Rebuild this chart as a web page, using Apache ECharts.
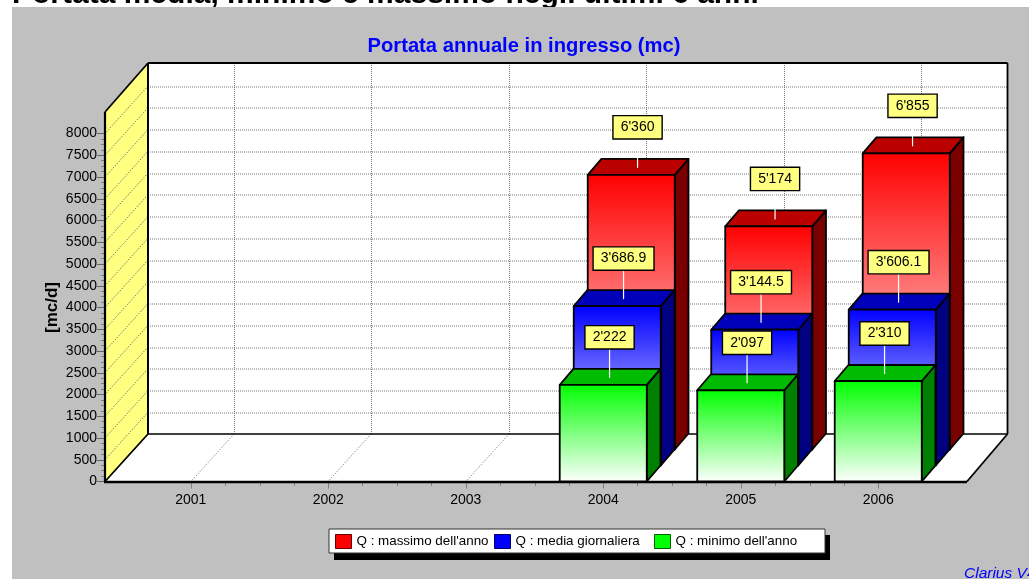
<!DOCTYPE html>
<html><head><meta charset="utf-8">
<style>html,body{margin:0;padding:0;background:#fff;overflow:hidden}#c{width:1029px;height:579px}</style>
<script src="https://cdn.jsdelivr.net/npm/echarts@6/dist/echarts.min.js"></script>
</head><body><div id="c"></div>
<script>
const categories = ['2001','2002','2003','2004','2005','2006'];
const massimo = [null,null,null,6360,5174,6855];
const media   = [null,null,null,3686.9,3144.5,3606.1];
const minimo  = [null,null,null,2222,2097,2310];
const yTicks = [0,500,1000,1500,2000,2500,3000,3500,4000,4500,5000,5500,6000,6500,7000,7500,8000,8500];

const FONT = '"Liberation Sans", Arial, sans-serif';
const DX = 43, DY = 47.5, STEP_X = 14, STEP_Y = 15, LDX = 13.7, LDY = 16;
const chart = echarts.init(document.getElementById('c'), null, {renderer:'canvas'});
const fmt = v => { const p = String(v).split('.'); return p[0].replace(/\B(?=(\d{3})+$)/g,"'") + (p[1] ? '.'+p[1] : ''); };

function chrome(params, api){
  const cs = params.coordSys, y0 = api.coord([0,0])[1], bw = api.size([1,0])[0];
  const L = cs.x - 17, R = cs.x + cs.width + 20, W = 1007.5;
  const topF = 112, topB = 63, backY = y0 - DY, backL = L + DX;
  const kids = [];
  kids.push({type:'rect',shape:{x:backL,y:topB,width:W-backL,height:backY-topB},style:{fill:'#fff'}});
  kids.push({type:'polygon',shape:{points:[[L,y0],[backL,backY],[W,backY],[R,y0]]},style:{fill:'#fff'}});
  kids.push({type:'polygon',shape:{points:[[L,topF],[backL,topB],[backL,backY],[L,y0]]},style:{fill:'#ffff80'}});
  const dot = {stroke:'#777',lineWidth:1,lineDash:[1,1]};
  yTicks.slice(1,-1).forEach(v => {
    const y = Math.round(api.coord([0,v])[1]);
    kids.push({type:'line',shape:{x1:backL,y1:y-DY+.5,x2:W,y2:y-DY+.5},style:dot});
  });
  yTicks.slice(0,-1).forEach(v => {
    const y = api.coord([0,v])[1];
    kids.push({type:'line',shape:{x1:L,y1:y,x2:backL,y2:y-DY},style:{stroke:'#55557a',lineWidth:1,lineDash:[1,1.5]}});
  });
  categories.forEach((c,i) => {
    const x = Math.round(api.coord([i,0])[0]);
    kids.push({type:'line',shape:{x1:x+DX+.5,y1:topB,x2:x+DX+.5,y2:backY},style:dot});
    kids.push({type:'line',shape:{x1:x,y1:y0,x2:x+DX,y2:backY},style:{stroke:'#777',lineWidth:1,lineDash:[1,1.5]}});
    if(i<categories.length-1) for(let k=1;k<4;k++){
      const tx = Math.round(x+k*bw/4)+.5;
      kids.push({type:'line',shape:{x1:tx,y1:y0,x2:tx,y2:y0+4.5},style:{stroke:'#808080',lineWidth:1}});
    }
  });
  const edge = (a,b,c,d,w)=>kids.push({type:'line',shape:{x1:a,y1:b,x2:c,y2:d},style:{stroke:'#000',lineWidth:w}});
  edge(backL,topB,W,topB,1.8);
  edge(backL,topB,backL,backY,2);
  edge(W,topB,W,backY,1.8);
  edge(backL,backY,W,backY,1.5);
  edge(L,topF,backL,topB,1.8);
  edge(L,y0,backL,backY,1.8);
  edge(R,y0,W,backY,1.8);
  edge(L,topF,L,y0,2.2);
  edge(L-1,y0+.5,R,y0+.5,2.5);
  return {type:'group',children:kids};
}

const barRender = (layer, front, topCol, sideCol) => (params, api) => {
  const val = api.value(1), cat = api.value(0);
  const cx = api.coord([cat,0])[0], y0 = api.coord([0,0])[1];
  const w = api.size([1,0])[0]*0.633;
  const left = cx - w/2 + STEP_X*layer, right = left + w;
  const top = api.coord([cat,val])[1] - STEP_Y*layer, base = y0 - LDY*layer;
  const ln = {stroke:'#000',lineWidth:1.8,lineJoin:'round'};
  const lx = (left+right)/2 + 6.3;
  return {type:'group',children:[
    {type:'polygon',shape:{points:[[right,top],[right+LDX,top-LDY],[right+LDX,base-LDY],[right,base]]},style:{fill:sideCol,...ln}},
    {type:'polygon',shape:{points:[[left,top],[right,top],[right+LDX,top-LDY],[left+LDX,top-LDY]]},style:{fill:topCol,...ln}},
    {type:'rect',shape:{x:left,y:top,width:w,height:base-top},style:{
      fill:new echarts.graphic.LinearGradient(0,0,0,1,[{offset:0,color:front},{offset:1,color:'#fff'}]),...ln}},
    {type:'line',shape:{x1:lx,y1:top-7,x2:lx,y2:top-36.5},style:{stroke:'#fff',lineWidth:1.2}},
    {type:'text',x:lx,y:top-36.5,style:{text:fmt(val),align:'center',verticalAlign:'bottom',font:'14px '+FONT,fill:'#000',
      backgroundColor:'#ffff80',borderColor:'#000',borderWidth:1.4,padding:[4,7,4,7]}}
  ]};
};

const toData = arr => arr.map((v,i)=>v==null?null:[i,v]).filter(Boolean);
const NAMES = ["Q : massimo dell'anno","Q : media giornaliera","Q : minimo dell'anno"];
const mkSeries = (name,arr,layer,front,topCol,sideCol) => ({
  type:'custom',name,data:toData(arr),encode:{x:0,y:1},silent:true,clip:false,animation:false,
  itemStyle:{color:front},renderItem:barRender(layer,front,topCol,sideCol)
});
const mkLegend = (name,left,border) => ({
  data:[{name,icon:'rect',itemStyle:{borderColor:border,borderWidth:1}}],
  left,top:534,padding:0,itemWidth:16,itemHeight:14,itemGap:6,selectedMode:false,
  textStyle:{fontFamily:FONT,fontSize:13.4,color:'#000',padding:[2,0,0,0]}
});

chart.setOption({
  animation:false,
  backgroundColor:'transparent',
  title:{text:'Portata annuale in ingresso (mc)',left:519,top:31,textAlign:'center',
    textStyle:{fontFamily:FONT,fontWeight:'bold',fontSize:20.2,color:'#0000ff'}},
  legend:[mkLegend(NAMES[0],335,'#600000'),mkLegend(NAMES[1],494,'#000060'),mkLegend(NAMES[2],654,'#006000')],
  grid:{left:122,width:825,top:133.5,height:348},
  xAxis:{type:'category',data:categories,
    axisLine:{show:false},
    axisTick:{show:true,alignWithLabel:true,length:7,lineStyle:{color:'#808080'}},
    axisLabel:{fontFamily:FONT,fontSize:14,color:'#000',margin:12},
    splitLine:{show:false}},
  yAxis:{type:'value',min:0,max:8000,interval:500,offset:17,
    name:'[mc/d]',nameLocation:'middle',nameRotate:90,nameGap:44,nameMoveOverlap:false,
    nameTextStyle:{fontFamily:FONT,fontWeight:'bold',fontSize:17,color:'#000'},
    axisLine:{show:false},
    axisTick:{show:true,length:8,lineStyle:{color:'#666'}},
    minorTick:{show:true,splitNumber:4,length:4,lineStyle:{color:'#808080'}},
    axisLabel:{fontFamily:FONT,fontSize:14,color:'#000',margin:8,formatter:v=>String(v)},
    splitLine:{show:false},minorSplitLine:{show:false}},
  graphic:[
    {type:'text',x:12,y:10,z:-20,style:{text:'Portata media, minimo e massimo negli ultimi 6 anni',font:'bold 30px '+FONT,fill:'#000',verticalAlign:'bottom'}},
    {type:'rect',z:-10,shape:{x:12,y:7,width:1017,height:572},style:{fill:'#c0c0c0'}},
    {type:'rect',z:3,shape:{x:334,y:535,width:496,height:25},style:{fill:'#000'}},
    {type:'rect',z:3,shape:{x:329,y:529,width:496,height:24},style:{fill:'#fff',stroke:'#333',lineWidth:1}},
    {type:'text',x:964,y:566,z:3,style:{text:'Clarius V4',font:'italic 15.5px '+FONT,fill:'#0000ff'}}
  ],
  series:[
    {type:'custom',data:[[0,0]],encode:{x:0,y:1},silent:true,clip:false,animation:false,renderItem:chrome,z:1},
    mkSeries(NAMES[0],massimo,2,'#ff0000','#bb0000','#7a0000'),
    mkSeries(NAMES[1],media,1,'#0000ff','#0000bb','#000080'),
    mkSeries(NAMES[2],minimo,0,'#00ff00','#00bb00','#008000')
  ]
});
</script></body></html>
